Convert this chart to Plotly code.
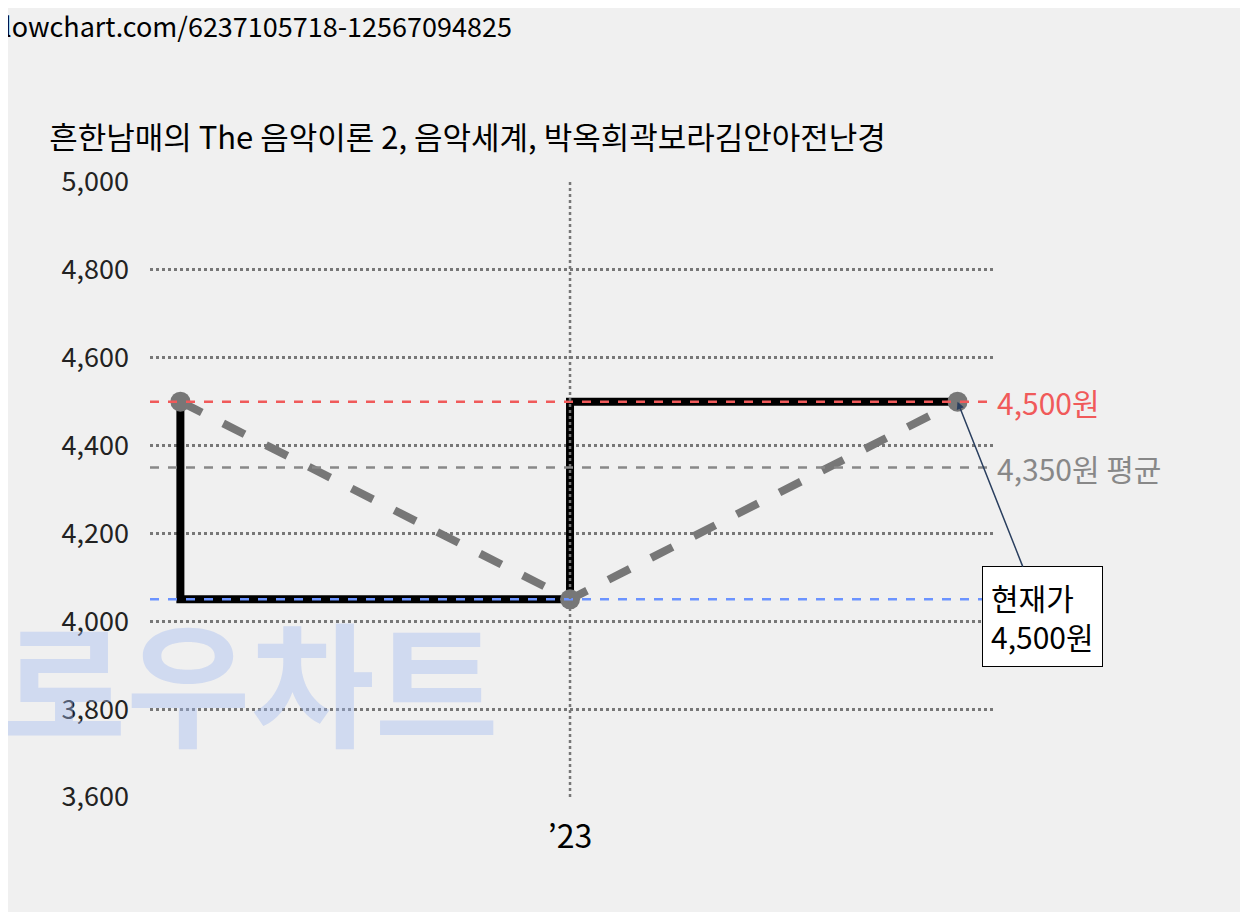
import plotly.graph_objects as go
import pandas as pd

dates = ["2022-07-02", "2023-01-01", "2023-07-02"]
prices = [4500, 4050, 4500]
current = 4500
avg = 4350
low = 4050
high = 4500
title = "흔한남매의 The 음악이론 2, 음악세계, 박옥희곽보라김안아전난경"
yticks = [3600, 3800, 4000, 4200, 4400, 4600, 4800, 5000]

F = "Noto Sans CJK KR"
d = pd.to_datetime(dates)
span = d[1] - d[0]
xr = [d[0] - span * 0.078, d[2] + span * 0.091]

fig = go.Figure()
fig.add_annotation(text="<b>로우차트</b>", x=0.0, xref="paper", y=3870, showarrow=False, xanchor="left",
                   xshift=-150, font=dict(size=135, color="rgba(160,185,240,0.4)", family=F))
fig.add_trace(go.Scatter(x=dates, y=prices, mode="lines", line=dict(color="black", width=8, shape="vh")))
fig.add_trace(go.Scatter(x=dates, y=prices, mode="lines+markers",
                         line=dict(color="#777", width=8, dash="dash"),
                         marker=dict(size=20, color="#777")))
for v, c, t in [(high, "#f05a5a", f"{high:,}원"), (avg, "#888", f"{avg:,}원 평균"), (low, "#6b93ff", f"{low:,}원")]:
    fig.add_hline(y=v, line=dict(color=c, width=2.5, dash="dash"))
    fig.add_annotation(x=1, xref="paper", y=v, text=t, showarrow=False, xanchor="left",
                       xshift=2, font=dict(color=c, size=30, family=F))
fig.add_vline(x="2023-01-01", line=dict(color="#777", width=2.5, dash="dot"))
fig.add_annotation(x=dates[2], y=current, text=f"현재가<br>{current:,}원", showarrow=True,
                   arrowhead=2, arrowwidth=1.5, ax=85, ay=215, align="left",
                   bgcolor="white", bordercolor="black", borderwidth=1, borderpad=8,
                   font=dict(size=30, color="black", family=F))
fig.add_annotation(text="lowchart.com/6237105718-12567094825", x=0, y=1, xref="paper", yref="paper",
                   xanchor="left", yanchor="top", showarrow=False, xshift=-148, yshift=178,
                   font=dict(size=27, color="black", family=F))
fig.update_layout(
    width=1248, height=912, paper_bgcolor="#f0f0f0", plot_bgcolor="#f0f0f0",
    margin=dict(l=142, r=263, t=174, b=123), showlegend=False,
    title=dict(text=title, x=0.033, xanchor="left", y=0.845, yanchor="bottom",
               font=dict(size=31, color="black", family=F)),
    xaxis=dict(type="date", range=xr, tickvals=["2023-01-01"], ticktext=["’23"], showgrid=False,
               zeroline=False, tickfont=dict(size=32, color="black", family=F), ticklen=0,
               ticklabelstandoff=18),
    yaxis=dict(range=[3600, 5000], tickvals=yticks, ticktext=[f"{v:,}" for v in yticks],
               gridcolor="#777", griddash="dot", gridwidth=2.5, zeroline=False,
               tickfont=dict(size=27, color="#222", family=F), ticklabelstandoff=20),
)
fig.write_html("out.html")
